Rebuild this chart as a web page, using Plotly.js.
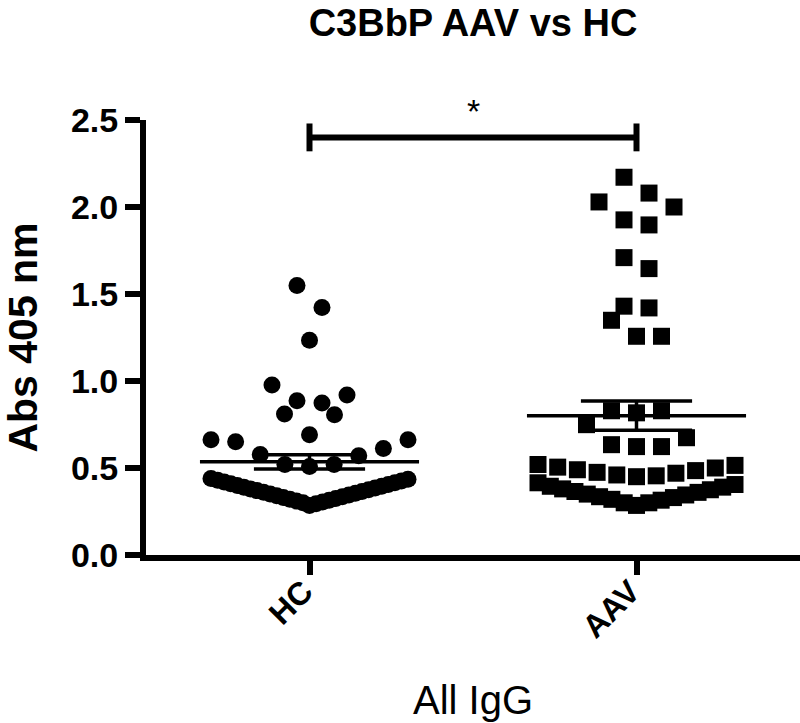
<!DOCTYPE html>
<html>
<head>
<meta charset="utf-8">
<script src="https://cdn.plot.ly/plotly-3.0.1.min.js"></script>
<style>
  html, body { margin: 0; padding: 0; background: #fff; }
  #chart { width: 800px; height: 723px; }
</style>
</head>
<body>
<div id="chart"></div>
<script>
// groups along the x axis
const groups = ['HC', 'AAV'];

// Abs 405 nm, one value per sample
const hcValues = [
  1.549, 1.423, 1.234, 0.977, 0.92, 0.886, 0.874, 0.811, 0.806, 0.691,
  0.663, 0.663, 0.651, 0.612, 0.577, 0.571, 0.52, 0.52, 0.509,
  0.44, 0.435, 0.43, 0.425, 0.42, 0.415, 0.41, 0.405, 0.40, 0.395,
  0.39, 0.385, 0.38, 0.375, 0.37, 0.365, 0.36, 0.355, 0.35, 0.345,
  0.34, 0.335, 0.33, 0.325, 0.32, 0.315, 0.31, 0.305, 0.30, 0.295, 0.285
];
const aavValues = [
  2.171, 2.08, 2.029, 2.0, 1.926, 1.897, 1.709, 1.646, 1.43, 1.42,
  1.349, 1.257, 1.257, 0.829, 0.829, 0.817, 0.749, 0.674, 0.634, 0.623, 0.623,
  0.52, 0.515, 0.505, 0.50, 0.49, 0.485, 0.475, 0.47, 0.46, 0.455, 0.45,
  0.415, 0.405, 0.395, 0.39, 0.38, 0.375, 0.365, 0.36, 0.35, 0.345,
  0.335, 0.33, 0.32, 0.315, 0.30, 0.30, 0.285
];

const yTicks = [0, 0.5, 1.0, 1.5, 2.0, 2.5];
const yMax = 2.5;
const sigLabel = '*';
const sigY = 2.4;        // height of the comparison bracket
const sigCap = 0.08;     // half length of its end caps
const sigLabelY = 2.67;  // where the star sits

// page geometry
const W = 800, H = 723;
const margin = {l: 146, r: 0, t: 120, b: 168};
const xRange = [-0.5, 1.5];
const pxPerX = (W - margin.l - margin.r) / (xRange[1] - xRange[0]);

// Prism-like scatter: points grouped in rows, lowest in the middle, spread outwards
function rowLayout(values, rowSpan, stepPx, maxPx) {
  const sorted = values.slice().sort((a, b) => a - b);
  const xs = [], ys = [];
  let i = 0;
  while (i < sorted.length) {
    const start = sorted[i];
    const row = [];
    while (i < sorted.length && sorted[i] < start + rowSpan) row.push(sorted[i++]);
    const n = row.length;
    const gap = n > 1 ? Math.min(stepPx, maxPx / (n - 1)) / pxPerX : 0;
    row.forEach((v, k) => {
      let slot;
      if (n % 2) slot = k === 0 ? 0 : Math.ceil(k / 2) * (k % 2 ? 1 : -1);
      else slot = (Math.floor(k / 2) + 0.5) * (k % 2 ? -1 : 1);
      xs.push(slot * gap);
      ys.push(v);
    });
  }
  return {xs, ys};
}

function stats(v) {
  const n = v.length;
  const mean = v.reduce((a, b) => a + b, 0) / n;
  const sd = Math.sqrt(v.reduce((a, b) => a + (b - mean) ** 2, 0) / (n - 1));
  return {mean, sem: sd / Math.sqrt(n)};
}

const series = [hcValues, aavValues];
const symbols = ['circle', 'square'];
const traces = [];

series.forEach((vals, gi) => {
  const lay = rowLayout(vals, 0.16, 25, 197);
  traces.push({
    type: 'scatter', mode: 'markers', name: groups[gi],
    x: lay.xs.map(d => gi + d), y: lay.ys,
    marker: {symbol: symbols[gi], size: 17, color: '#000', line: {width: 0}},
    hoverinfo: 'y'
  });
});

// mean with SEM
series.forEach((vals, gi) => {
  const s = stats(vals);
  const lo = s.mean - s.sem, hi = s.mean + s.sem;
  traces.push({
    type: 'scatter', mode: 'lines', showlegend: false, hoverinfo: 'skip',
    x: [gi - 0.335, gi + 0.335, null, gi - 0.17, gi + 0.17, null, gi - 0.17, gi + 0.17, null, gi, gi],
    y: [s.mean, s.mean, null, hi, hi, null, lo, lo, null, lo, hi],
    line: {color: '#000', width: 3.5}
  });
});

// significance bracket HC vs AAV
traces.push({
  type: 'scatter', mode: 'lines', showlegend: false, hoverinfo: 'skip', cliponaxis: false,
  x: [0, 0, null, 0, 1, null, 1, 1],
  y: [sigY - sigCap, sigY + sigCap, null, sigY, sigY, null, sigY - sigCap, sigY + sigCap],
  line: {color: '#000', width: 6}
});

const layout = {
  width: W, height: H,
  margin: margin,
  paper_bgcolor: '#fff', plot_bgcolor: '#fff',
  showlegend: false,
  font: {family: 'Liberation Sans, Arial, sans-serif', color: '#000'},
  title: {
    text: 'C3BbP AAV vs HC',
    font: {size: 38, weight: 'bold', color: '#000'},
    x: 0.5, xref: 'paper', yref: 'container', y: 0.969, yanchor: 'middle'
  },
  xaxis: {
    range: xRange,
    tickvals: [0, 1], ticktext: groups, tickangle: -45,
    tickfont: {size: 32, weight: 'bold'},
    ticklabelstandoff: -15, ticklabelshift: -6,
    ticks: 'outside', ticklen: 14, tickwidth: 6, tickcolor: '#000',
    showline: true, linewidth: 6, linecolor: '#000',
    showgrid: false, zeroline: false,
    title: {text: 'All IgG', font: {size: 40}, standoff: 44}
  },
  yaxis: {
    range: [0, yMax],
    tickvals: yTicks, tickformat: '.1f',
    tickfont: {size: 34, weight: 'bold'},
    ticks: 'outside', ticklen: 15, tickwidth: 6, tickcolor: '#000',
    showline: true, linewidth: 6, linecolor: '#000',
    showgrid: false, zeroline: false,
    title: {text: 'Abs 405 nm', font: {size: 41, weight: 'bold'}, standoff: 33}
  },
  annotations: [{
    x: 0.5, y: sigLabelY / yMax, xref: 'x', yref: 'paper',
    text: sigLabel, showarrow: false,
    font: {size: 34, color: '#000'}
  }]
};

Plotly.newPlot('chart', traces, layout, {displayModeBar: false, staticPlot: true});
</script>
</body>
</html>
